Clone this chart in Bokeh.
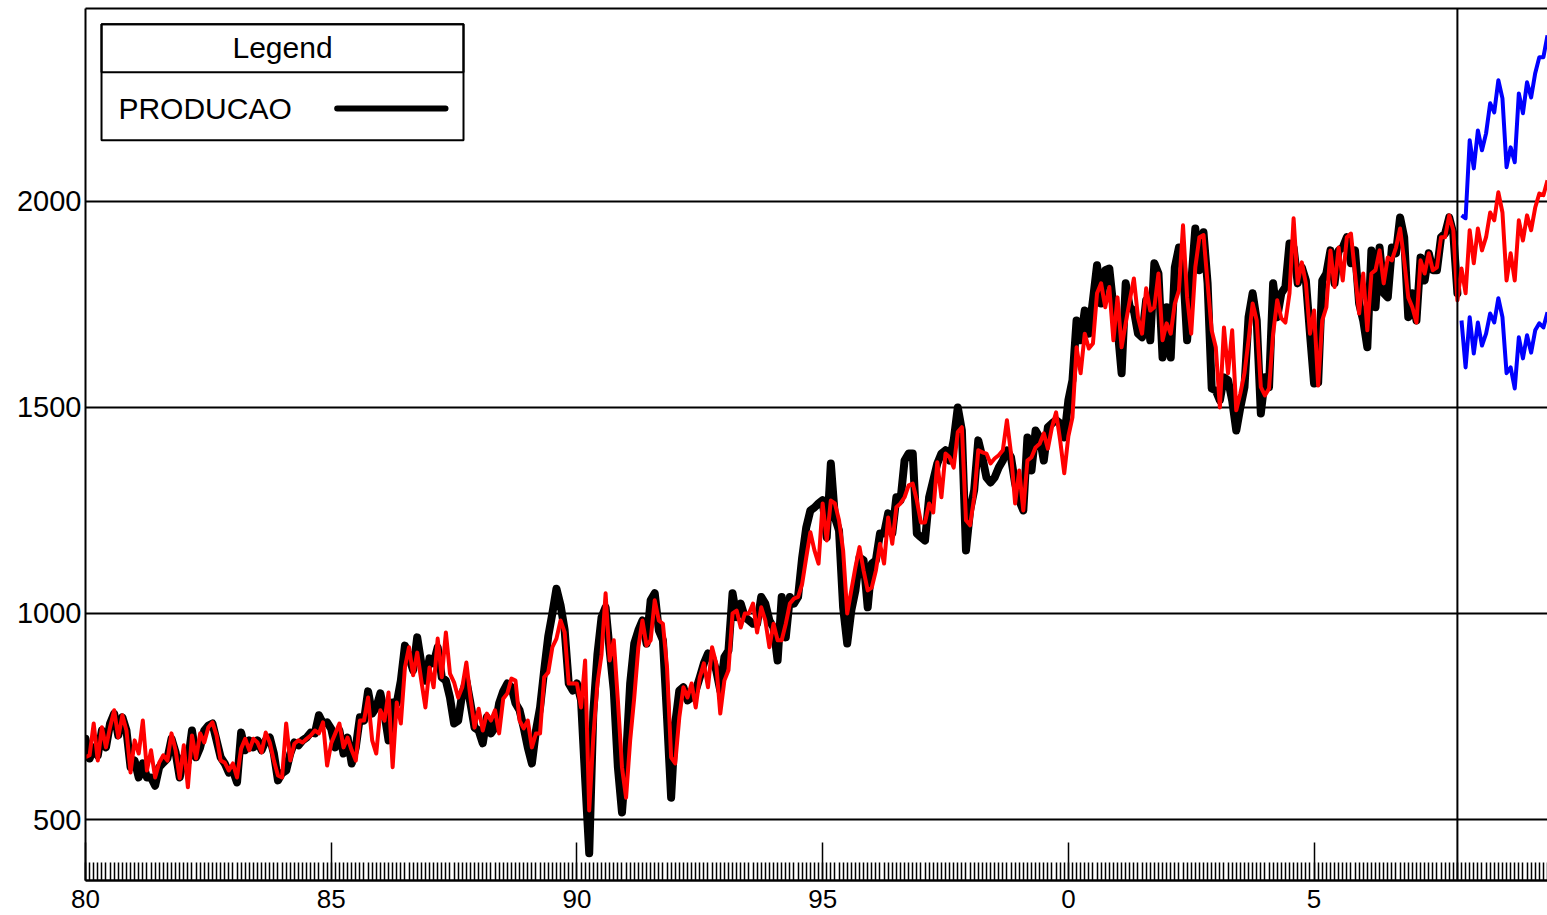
from bokeh.plotting import figure
from bokeh.models import FixedTicker, Span, BoxAnnotation, Label, LinearAxis, Range1d
from bokeh.embed import file_html
from bokeh.resources import INLINE

START_YEAR = 1980

# observed series PRODUCAO, monthly Jan 1980 .. Dec 2007
producao = [
    696, 648, 675, 655, 716, 675, 733, 757, 704, 748, 716, 627,
    643, 602, 636, 602, 602, 582, 627, 638, 648, 696, 663, 602,
    651, 640, 716, 651, 675, 716, 728, 733, 692, 651, 636, 614,
    619, 590, 711, 668, 692, 675, 692, 668, 692, 699, 660, 595,
    612, 619, 660, 687, 680, 692, 699, 711, 709, 753, 733, 736,
    720, 675, 716, 660, 699, 636, 675, 748, 740, 811, 757, 772,
    806, 757, 692, 784, 782, 837, 922, 894, 862, 942, 879, 837,
    891, 879, 918, 845, 837, 796, 733, 740, 806, 837, 782, 723,
    716, 685, 748, 709, 723, 782, 811, 830, 821, 782, 765, 723,
    675, 636, 716, 772, 862, 945, 1000, 1060, 1020, 960, 830, 813,
    830, 790, 600, 418, 760, 900, 990, 1015, 910, 813, 627, 517,
    651, 830, 927, 959, 983, 927, 1032, 1049, 959, 935, 748, 553,
    733, 813, 821, 789, 796, 813, 845, 879, 903, 894, 862, 813,
    894, 910, 1049, 991, 1024, 991, 983, 975, 975, 1040, 1024, 983,
    966, 886, 1040, 942, 1040, 1024, 1040, 1136, 1209, 1250, 1257, 1267,
    1275, 1185, 1364, 1233, 1201, 1015, 927, 1007, 1056, 1136, 1129, 1015,
    1121, 1129, 1194, 1194, 1243, 1194, 1282, 1274, 1371, 1388, 1388, 1194,
    1185, 1177, 1282, 1323, 1364, 1388, 1396, 1371, 1420, 1500, 1444, 1153,
    1250, 1299, 1420, 1379, 1330, 1318, 1330, 1354, 1371, 1396, 1379, 1315,
    1274, 1250, 1427, 1347, 1444, 1427, 1371, 1452, 1461, 1469, 1461, 1427,
    1517, 1566, 1711, 1663, 1735, 1679, 1760, 1845, 1752, 1833, 1837, 1743,
    1694, 1583, 1801, 1743, 1735, 1679, 1670, 1760, 1663, 1850, 1825, 1621,
    1743, 1621, 1840, 1888, 1840, 1663, 1801, 1934, 1833, 1925, 1801, 1546,
    1541, 1517, 1573, 1566, 1517, 1444, 1500, 1549, 1719, 1777, 1711, 1485,
    1573, 1549, 1801, 1719, 1777, 1792, 1898, 1888, 1801, 1840, 1808, 1679,
    1558, 1560, 1808, 1825, 1881, 1801, 1881, 1888, 1913, 1850, 1881, 1752,
    1711, 1646, 1881, 1743, 1888, 1777, 1767, 1888, 1874, 1961, 1913, 1719,
    1777, 1711, 1864, 1808, 1874, 1833, 1833, 1913, 1922, 1961, 1922, 1777,
]

# fitted values (red), same months
ajustado = [
    651, 656, 733, 643, 724, 675, 724, 765, 699, 753, 716, 614,
    692, 660, 740, 619, 668, 602, 638, 656, 643, 709, 668, 600,
    680, 578, 704, 648, 709, 687, 724, 736, 704, 643, 638, 619,
    636, 602, 672, 696, 668, 696, 687, 663, 711, 687, 643, 607,
    602, 733, 643, 684, 692, 687, 696, 704, 716, 709, 736, 631,
    685, 709, 733, 675, 699, 668, 643, 740, 740, 796, 692, 660,
    765, 740, 808, 627, 784, 733, 869, 918, 850, 905, 837, 772,
    869, 821, 939, 845, 954, 854, 833, 796, 821, 881, 796, 723,
    769, 716, 757, 740, 765, 709, 793, 806, 842, 837, 740, 721,
    740, 675, 709, 709, 845, 857, 918, 939, 983, 954, 830, 830,
    830, 772, 886, 522, 700, 830, 900, 1049, 886, 935, 789, 627,
    553, 692, 796, 918, 983, 922, 935, 1032, 983, 975, 869, 651,
    636, 748, 821, 796, 830, 772, 845, 879, 821, 918, 879, 757,
    837, 862, 1000, 1007, 966, 1000, 1000, 1024, 954, 1015, 983, 918,
    975, 935, 935, 975, 1024, 1036, 1040, 1072, 1136, 1197, 1153, 1121,
    1267, 1177, 1274, 1267, 1226, 1153, 1000, 1056, 1112, 1161, 1104, 1056,
    1063, 1104, 1169, 1121, 1233, 1169, 1258, 1267, 1282, 1311, 1315, 1274,
    1221, 1221, 1267, 1245, 1367, 1282, 1388, 1379, 1354, 1440, 1452, 1226,
    1214, 1282, 1396, 1391, 1388, 1364, 1376, 1384, 1396, 1469, 1388, 1267,
    1347, 1250, 1371, 1379, 1403, 1412, 1437, 1400, 1452, 1488, 1420, 1340,
    1430, 1476, 1646, 1583, 1679, 1643, 1655, 1777, 1801, 1743, 1792, 1663,
    1767, 1646, 1704, 1760, 1813, 1719, 1679, 1789, 1735, 1743, 1825, 1663,
    1704, 1679, 1752, 1784, 1942, 1767, 1679, 1840, 1913, 1918, 1801, 1687,
    1646, 1500, 1694, 1583, 1687, 1493, 1534, 1583, 1663, 1752, 1711, 1549,
    1529, 1546, 1679, 1760, 1716, 1706, 1777, 1959, 1801, 1852, 1801, 1679,
    1735, 1553, 1711, 1743, 1881, 1792, 1888, 1808, 1913, 1922, 1825, 1728,
    1825, 1687, 1825, 1833, 1881, 1801, 1864, 1857, 1888, 1934, 1857, 1767,
    1743, 1706, 1857, 1825, 1874, 1833, 1840, 1913, 1913, 1966, 1930, 1760,
]

# forecast (red) and bounds (blue), Jan 2008 ..
previsao = [1837, 1777, 1930, 1850, 1934, 1881, 1913, 1973, 1954, 2022, 1973,
            1808, 1874, 1808, 1954, 1905, 1966, 1930, 1985, 2019, 2015, 2051]
limite_sup = [1966, 1959, 2148, 2080, 2172, 2124, 2165, 2238, 2216, 2294, 2250,
              2083, 2131, 2095, 2262, 2214, 2289, 2252, 2311, 2350, 2350, 2403]
limite_inf = [1711, 1597, 1719, 1631, 1706, 1650, 1679, 1728, 1706, 1765, 1719,
              1583, 1597, 1546, 1670, 1619, 1675, 1633, 1687, 1704, 1694, 1731]

X_TICKS = [1980, 1985, 1990, 1995, 2000, 2005]
X_LABELS = ["80", "85", "90", "95", "0", "5"]
Y_TICKS = [500, 1000, 1500, 2000]
X_START, X_END = 1980, 2009.75
Y_START, Y_END = 352, 2468

FONT = "Liberation Sans"

n_obs = len(producao)
n_fc = len(previsao)
t_obs = [START_YEAR + i / 12 for i in range(n_obs)]
t_fc = [START_YEAR + (n_obs + i) / 12 for i in range(n_fc)]
n_all = int(round((X_END - START_YEAR) * 12)) + 1
t_minor = [START_YEAR + i / 12 for i in range(n_all)]

p = figure(width=1547, height=915, output_backend="svg", toolbar_location=None,
           x_range=Range1d(X_START, X_END), y_range=Range1d(Y_START, Y_END),
           min_border_left=85, min_border_right=0, min_border_top=8,
           min_border_bottom=35)
p.outline_line_color = None
p.background_fill_color = "white"
p.border_fill_color = "white"

# lines
p.line(t_obs, producao, line_color="black", line_width=8, line_join="round", line_cap="round")
p.line(t_obs + t_fc, ajustado + previsao, line_color="#ff0000", line_width=4, line_join="round")
p.line(t_fc, limite_sup, line_color="#0000ff", line_width=4, line_join="round")
p.line(t_fc, limite_inf, line_color="#0000ff", line_width=4, line_join="round")

# forecast origin
p.add_layout(Span(location=t_obs[-1], dimension="height", line_color="black", line_width=2))

# axes
p.xgrid.visible = False
p.ygrid.ticker = FixedTicker(ticks=Y_TICKS)
p.ygrid.grid_line_color = "black"
p.ygrid.grid_line_width = 2

xa = p.xaxis[0]
xa.ticker = FixedTicker(ticks=X_TICKS, minor_ticks=t_minor)
xa.major_label_overrides = {t: s for t, s in zip(X_TICKS, X_LABELS)}
xa.major_tick_in = 38
xa.major_tick_out = 0
xa.minor_tick_in = 18
xa.minor_tick_out = 0
xa.major_tick_line_width = 1.5
xa.minor_tick_line_width = 1.5
xa.major_tick_line_color = "black"
xa.minor_tick_line_color = "black"
xa.axis_line_width = 2.5
xa.axis_line_color = "black"
xa.major_label_text_font = FONT
xa.major_label_text_font_size = "26px"
xa.major_label_text_color = "black"
xa.major_label_standoff = 9

ya = p.yaxis[0]
ya.ticker = FixedTicker(ticks=Y_TICKS)
ya.major_tick_in = 0
ya.major_tick_out = 0
ya.minor_tick_in = 0
ya.minor_tick_out = 0
ya.axis_line_width = 2
ya.axis_line_color = "black"
ya.major_label_text_font = FONT
ya.major_label_text_font_size = "29px"
ya.major_label_text_color = "black"
ya.major_label_standoff = 4

top = LinearAxis(ticker=FixedTicker(ticks=[]), major_label_text_font_size="0px",
                 major_tick_in=0, major_tick_out=0, minor_tick_in=0, minor_tick_out=0,
                 axis_line_width=2, axis_line_color="black", major_label_standoff=0)
p.add_layout(top, "above")

# legend box (annotation geometry)
LEG_LEFT, LEG_RIGHT = 1980.326, 1987.692
LEG_TOP, LEG_SEP, LEG_BOTTOM = 2429.6, 2313.1, 2148.1
p.add_layout(BoxAnnotation(left=LEG_LEFT, right=LEG_RIGHT, top=LEG_TOP, bottom=LEG_BOTTOM,
                           fill_color="white", fill_alpha=1, line_color="black",
                           line_width=2, line_alpha=1))
p.add_layout(BoxAnnotation(left=LEG_LEFT, right=LEG_RIGHT, top=LEG_TOP, bottom=LEG_SEP,
                           fill_alpha=0, line_color="black", line_width=2, line_alpha=1))
p.add_layout(Label(x=(LEG_LEFT + LEG_RIGHT) / 2, y=(LEG_TOP + LEG_SEP) / 2 + 2, text="Legend",
                   text_align="center", text_baseline="middle", text_font=FONT,
                   text_font_size="30px", text_color="black"))
ITEM_Y = (LEG_SEP + LEG_BOTTOM) / 2 - 5
p.add_layout(Label(x=1980.67, y=ITEM_Y, text="PRODUCAO", text_align="left",
                   text_baseline="middle", text_font=FONT, text_font_size="30px",
                   text_color="black"))
p.add_layout(BoxAnnotation(left=1985.06, right=1987.387, top=ITEM_Y + 7.3, bottom=ITEM_Y - 7.3,
                           fill_color="black", fill_alpha=1, line_alpha=0, border_radius=3))

open("out.html", "w").write(file_html(p, INLINE))
